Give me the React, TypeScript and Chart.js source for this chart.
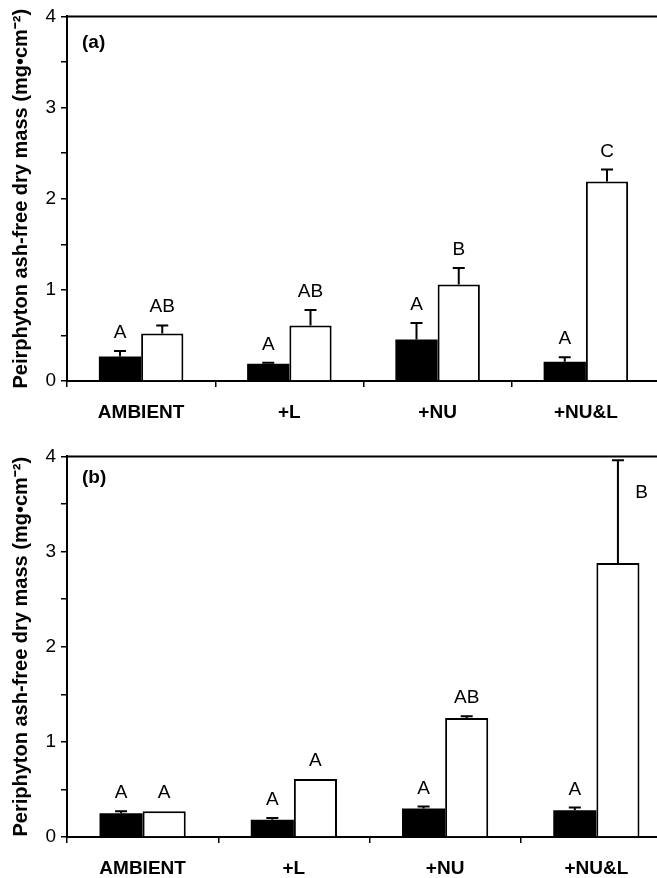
import React, { useEffect, useRef } from "react";
import { Chart, registerables } from "chart.js";

Chart.register(...registerables);

const categories = ["AMBIENT", "+L", "+NU", "+NU&L"];

const aDark = [0.27, 0.19, 0.455, 0.21];
const aDarkErr = [0.06, 0.01, 0.18, 0.05];
const aLight = [0.52, 0.61, 1.06, 2.19];
const aLightErr = [0.09, 0.17, 0.18, 0.13];
const aDarkLetters = ["A", "A", "A", "A"];
const aLightLetters = ["AB", "AB", "B", "C"];

const bDark = [0.25, 0.18, 0.3, 0.28];
const bDarkErr = [0.02, 0.02, 0.02, 0.03];
const bLight = [0.27, 0.61, 1.25, 2.88];
const bLightErr = [0, 0, 0.02, 1.08];
const bDarkLetters = ["A", "A", "A", "A"];
const bLightLetters = ["A", "A", "AB", "B"];

const yTicks = [0, 1, 2, 3, 4];

const FONT = "'Liberation Sans', Arial, Helvetica, sans-serif";

type PanelProps = {
  panel: string;
  yTitle: string;
  dark: number[];
  darkErr: number[];
  light: number[];
  lightErr: number[];
  darkLetters: string[];
  lightLetters: string[];
  width: number;
  height: number;
  padTop: number;
  padRight: number;
  xAxisHeight: number;
  panelLabelDy: number;
  top: number;
};

function Panel(p: PanelProps) {
  const ref = useRef<HTMLCanvasElement | null>(null);
  useEffect(() => {
    if (!ref.current) return;
    const errs = [p.darkErr, p.lightErr];
    const letters = [p.darkLetters, p.lightLetters];
    const vals = [p.dark, p.light];
    const overlay = {
      id: "overlay",
      afterDatasetsDraw(chart: any) {
        const ctx = chart.ctx;
        const ys = chart.scales.y;
        const area = chart.chartArea;
        ctx.save();
        // top frame line
        ctx.strokeStyle = "#000";
        ctx.lineWidth = 2;
        ctx.beginPath();
        ctx.moveTo(area.left, area.top);
        ctx.lineTo(area.right, area.top);
        ctx.stroke();
        // error bars + letters
        for (let d = 0; d < 2; d++) {
          const meta = chart.getDatasetMeta(d);
          meta.data.forEach((el: any, j: number) => {
            const v = vals[d][j];
            const e = errs[d][j];
            const topPx = ys.getPixelForValue(v + e);
            if (e > 0) {
              ctx.lineWidth = 2;
              ctx.strokeStyle = "#000";
              ctx.beginPath();
              ctx.moveTo(el.x, el.y);
              ctx.lineTo(el.x, topPx);
              ctx.moveTo(el.x - 6, topPx);
              ctx.lineTo(el.x + 6, topPx);
              ctx.stroke();
            }
            ctx.fillStyle = "#000";
            ctx.font = `19px ${FONT}`;
            ctx.textBaseline = "alphabetic";
            ctx.textAlign = "center";
            const lab = letters[d][j];
            if (v + e > 3.5) {
              ctx.fillText(lab, el.x + el.width / 2 + 2, area.top + 42);
            } else {
              ctx.fillText(lab, el.x, Math.min(topPx, el.y) - 13);
            }
          });
        }
        // panel label
        ctx.font = `bold 19px ${FONT}`;
        ctx.textAlign = "left";
        ctx.fillText(p.panel, area.left + 15, area.top + p.panelLabelDy);
        ctx.restore();
      },
    };
    const chart = new Chart(ref.current, {
      type: "bar",
      data: {
        labels: categories,
        datasets: [
          {
            data: p.dark,
            backgroundColor: "#000",
            borderColor: "#000",
            borderWidth: 0,
            categoryPercentage: 0.57,
            barPercentage: 1,
          },
          {
            data: p.light,
            backgroundColor: "#fff",
            borderColor: "#000",
            borderWidth: 2,
            categoryPercentage: 0.57,
            barPercentage: 1,
          },
        ],
      },
      options: {
        responsive: false,
        animation: false,
        events: [],
        layout: { padding: { top: p.padTop, right: p.padRight, left: 0, bottom: 0 } },
        plugins: { legend: { display: false }, tooltip: { enabled: false } },
        scales: {
          x: {
            afterFit: (s: any) => {
              s.height = p.xAxisHeight;
            },
            grid: {
              offset: true,
              drawOnChartArea: false,
              drawTicks: true,
              tickLength: 6,
              color: "#000",
              lineWidth: 1.5,
            },
            border: { display: true, color: "#000", width: 2 },
            ticks: {
              color: "#000",
              font: { family: FONT, size: 19, weight: "bold" },
              padding: 14,
              maxRotation: 0,
            },
          },
          y: {
            min: 0,
            max: 4,
            afterFit: (s: any) => {
              s.width = 67;
            },
            afterBuildTicks: (s: any) => {
              const t: any[] = [];
              for (let i = 0; i < yTicks.length; i++) {
                t.push({ value: yTicks[i] });
                if (i < yTicks.length - 1) t.push({ value: (yTicks[i] + yTicks[i + 1]) / 2 });
              }
              s.ticks = t;
            },
            ticks: {
              color: "#000",
              font: { family: FONT, size: 19 },
              padding: 5,
              callback: (v: any) => (yTicks.includes(Number(v)) ? String(v) : ""),
            },
            grid: {
              drawOnChartArea: false,
              drawTicks: true,
              tickLength: 6,
              color: "#000",
              lineWidth: 1.5,
            },
            border: { display: true, color: "#000", width: 2 },
            title: {
              display: true,
              text: p.yTitle,
              color: "#000",
              font: { family: FONT, size: 20, weight: "bold" },
              padding: { top: 9, bottom: 0 },
            },
          },
        },
      },
      plugins: [overlay],
    } as any);
    return () => chart.destroy();
  }, []);
  return (
    <canvas
      ref={ref}
      width={p.width}
      height={p.height}
      style={{ position: "absolute", left: 0, top: p.top, width: p.width, height: p.height }}
    />
  );
}

export default function App() {
  useEffect(() => {
    document.body.style.margin = "0";
  }, []);
  return (
    <div style={{ position: "relative", width: 657, height: 878, overflow: "hidden", background: "#fff" }}>
      <Panel
        panel="(a)"
        yTitle="Peirphyton ash-free dry mass (mg•cm⁻²)"
        dark={aDark}
        darkErr={aDarkErr}
        light={aLight}
        lightErr={aLightErr}
        darkLetters={aDarkLetters}
        lightLetters={aLightLetters}
        width={680}
        height={440}
        padTop={12}
        padRight={20}
        xAxisHeight={59}
        panelLabelDy={32}
        top={0}
      />
      <Panel
        panel="(b)"
        yTitle="Periphyton ash-free dry mass (mg•cm⁻²)"
        dark={bDark}
        darkErr={bDarkErr}
        light={bLight}
        lightErr={bLightErr}
        darkLetters={bDarkLetters}
        lightLetters={bLightLetters}
        width={680}
        height={438}
        padTop={8}
        padRight={8}
        xAxisHeight={41}
        panelLabelDy={27}
        top={440}
      />
    </div>
  );
}
